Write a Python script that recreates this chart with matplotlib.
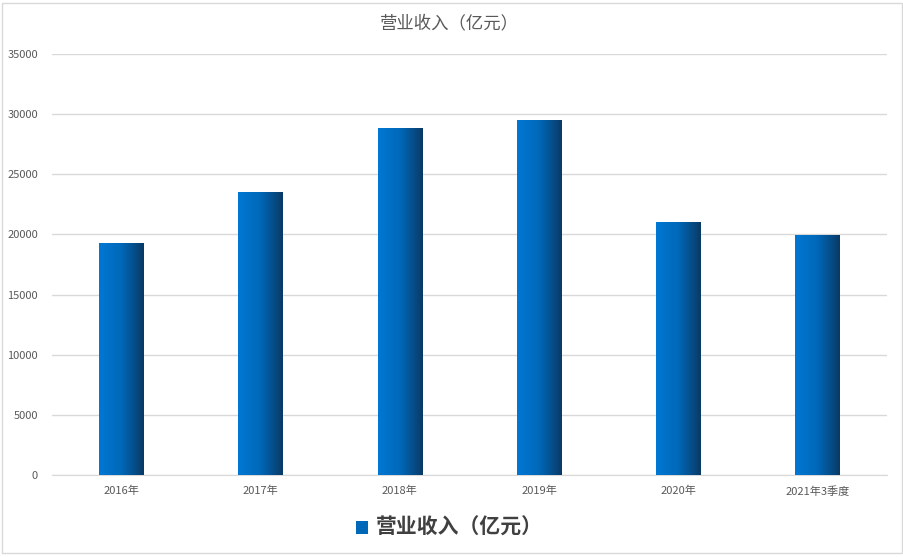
import matplotlib
matplotlib.use("Agg")
import matplotlib.pyplot as plt
import numpy as np
from matplotlib.colors import LinearSegmentedColormap
from matplotlib.patches import Rectangle

plt.rcParams['font.family'] = ['Noto Sans CJK SC', 'DejaVu Sans']

# data
years = ['2016年', '2017年', '2018年', '2019年', '2020年', '2021年3季度']
revenue = [19300, 23500, 28850, 29500, 21050, 19950]
yticks = [0, 5000, 10000, 15000, 20000, 25000, 30000, 35000]

fig = plt.figure(figsize=(9.04, 5.57), dpi=100)
fig.patch.set_facecolor('white')
# chart area border
fig.patches.append(Rectangle((2/904, 4/557), 900/904, 550/557, transform=fig.transFigure,
                             fill=False, edgecolor='#d9d9d9', lw=1))

ax = fig.add_axes([52/904, 82/557, 835/904, 421/557])
x = np.arange(len(years))
bars = ax.bar(x, revenue, width=0.32, color='#0070c0', zorder=2)

# horizontal gradient on each bar
grad = LinearSegmentedColormap.from_list('g', ['#0078d4', '#0068b8', '#0a3a66'])
g = np.linspace(0, 1, 256).reshape(1, -1)
for b in bars:
    bx, by = b.get_x(), b.get_y()
    w, h = b.get_width(), b.get_height()
    im = ax.imshow(g, cmap=grad, extent=[bx, bx + w, by, by + h], aspect='auto', zorder=3)
    im.set_clip_path(b)

ax.set_xlim(-0.5, len(years) - 0.5)
ax.set_ylim(0, 35000)
ax.set_yticks(yticks)
ax.set_yticklabels([str(v) for v in yticks])
ax.set_xticks(x)
ax.set_xticklabels(years)
ax.grid(axis='y', color='#d9d9d9', lw=1, zorder=0)
ax.set_axisbelow(True)
for s in ['top', 'right', 'left']:
    ax.spines[s].set_visible(False)
ax.spines['bottom'].set_color('#d9d9d9')
ax.tick_params(length=0, colors='#595959', labelsize=8)
ax.tick_params(axis='y', pad=10)
ax.tick_params(axis='x', pad=8)

fig.text(449/904, 1 - 23/557, '营业收入（亿元）', ha='center', va='center',
         fontsize=12.5, color='#595959', fontweight='light')

# legend
fig.patches.append(Rectangle((356/904, 1 - 534/557), 12/904, 13/557, transform=fig.transFigure,
                             facecolor='#0068b8', edgecolor='none'))
fig.text(376/904, 1 - 527/557, '营业收入（亿元）', ha='left', va='center',
         fontsize=15, color='#404040', fontweight='bold')

fig.savefig('out.png', dpi=100, facecolor='white')
